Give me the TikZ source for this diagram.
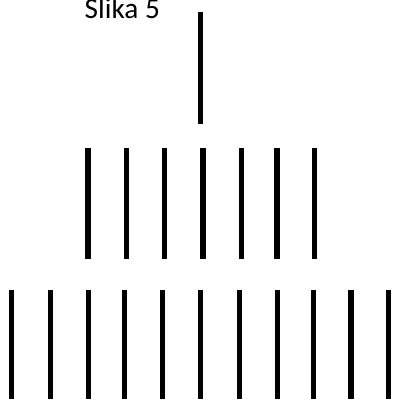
\documentclass[tikz,border=0pt]{standalone}
\usepackage{fontspec}
\setmainfont{Carlito}
\begin{document}
\begin{tikzpicture}[x=1pt,y=-1pt,
  stick/.style={line width=5.2pt,black},
  caption/.style={font=\fontsize{29.3}{31}\selectfont,inner sep=0pt,anchor=base west}]
\useasboundingbox (0,0) rectangle (393,399);
\clip (0,0) rectangle (393,399);
\node[caption] (cap) at (84.5,18) {Slika 5};
% top row
\draw[stick] (200.5,12) -- (200.5,124);
% middle row
\foreach \x in {88,126.7,164.2,203,241.2,277,314.5}
  \draw[stick] (\x,148) -- (\x,259);
% bottom row
\foreach \x in {11.7,50.5,88.7,124.5,162.2,200.8,239.3,277.7,313.3,351,388.3}
  \draw[stick] (\x,290) -- (\x,405);
\end{tikzpicture}
\end{document}
